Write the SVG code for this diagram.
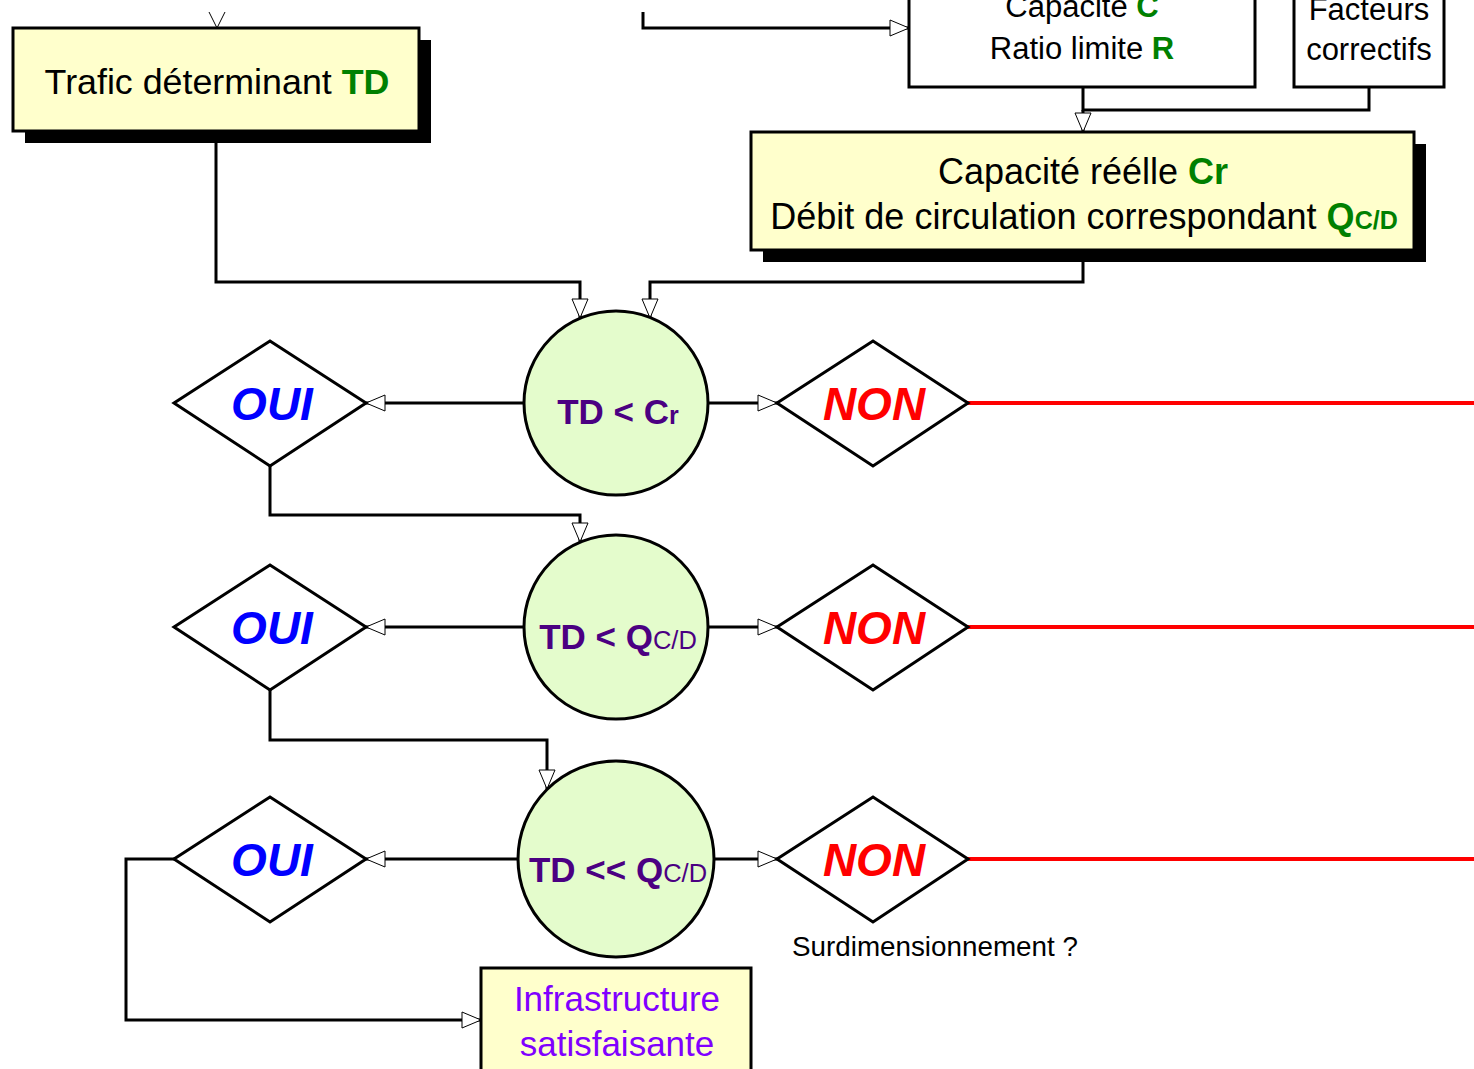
<svg xmlns="http://www.w3.org/2000/svg" width="1474" height="1069" viewBox="0 0 1474 1069">
<style>
text{font-family:"Liberation Sans",Arial,sans-serif;}
.box{fill:#ffffcc;stroke:#000;stroke-width:3;}
.wbox{fill:#fff;stroke:#000;stroke-width:3;}
.sh{fill:#000;}
.circ{fill:#e4fccc;stroke:#000;stroke-width:3;}
.dia{fill:#fff;stroke:#000;stroke-width:3;}
.ln{fill:none;stroke:#000;stroke-width:3;}
.lna{fill:none;stroke:#000;stroke-width:3;marker-end:url(#arr);}
.red{fill:none;stroke:#ff0000;stroke-width:4;}
.g{fill:#008000;font-weight:bold;}
.ct{fill:#4b0082;font-weight:bold;font-size:35px;}
.oui{fill:#0000ff;font-weight:bold;font-style:italic;font-size:46px;}
.non{fill:#ff0000;font-weight:bold;font-style:italic;font-size:46px;}
</style>
<defs>
<marker id="arr" markerUnits="userSpaceOnUse" markerWidth="20" markerHeight="18" refX="19" refY="8" orient="auto" overflow="visible">
<path d="M0,0 L19,8 L0,16 Z" fill="#fff" stroke="#000" stroke-width="1"/>
</marker>
</defs>
<rect width="1474" height="1069" fill="#fff"/>

<g id="connectors">
<path d="M209,12 L217,28 L225,12" fill="none" stroke="#000" stroke-width="1"/>
<path class="lna" d="M643,12 V28 H909"/>
<path class="ln" d="M1083,87 V110 H1369 V87"/>
<path class="lna" d="M1083,110 V132"/>
<path class="lna" d="M216,143 V282 H580 V318"/>
<path class="lna" d="M1083,262 V282 H650 V318"/>
<path class="lna" d="M524,403 H366"/>
<path class="lna" d="M708,403 H777"/>
<path class="red" d="M968,403 H1474"/>
<path class="lna" d="M270,466 V515 H580 V542"/>
<path class="lna" d="M524,627 H366"/>
<path class="lna" d="M708,627 H777"/>
<path class="red" d="M968,627 H1474"/>
<path class="lna" d="M270,690 V740 H547 V789"/>
<path class="lna" d="M518,859 H366"/>
<path class="lna" d="M714,859 H777"/>
<path class="red" d="M968,859 H1474"/>
<path class="lna" d="M174,859 H126 V1020 H481"/>
</g>

<g id="trafic">
<rect class="sh" x="25" y="40" width="406" height="103"/>
<rect class="box" x="13" y="28" width="406" height="103"/>
<text x="217" y="94" font-size="35.8" text-anchor="middle">Trafic déterminant <tspan class="g">TD</tspan></text>
</g>

<g id="capacite">
<rect class="wbox" x="909" y="-20" width="346" height="107"/>
<text x="1082" y="17" font-size="31" text-anchor="middle">Capacité <tspan class="g">C</tspan></text>
<text x="1082" y="59" font-size="31" text-anchor="middle">Ratio limite <tspan class="g">R</tspan></text>
</g>

<g id="facteurs">
<rect class="wbox" x="1294" y="-20" width="150" height="107"/>
<text x="1369" y="20" font-size="31" text-anchor="middle">Facteurs</text>
<text x="1369" y="60" font-size="31" text-anchor="middle">correctifs</text>
</g>

<g id="capreelle">
<rect class="sh" x="763" y="144" width="663" height="118"/>
<rect class="box" x="751" y="132" width="663" height="118"/>
<text x="1083" y="184" font-size="36" text-anchor="middle">Capacité réélle <tspan class="g">Cr</tspan></text>
<text x="1084" y="229" font-size="36" text-anchor="middle">Débit de circulation correspondant <tspan class="g">Q<tspan font-size="25">C/D</tspan></tspan></text>
</g>

<g id="c1">
<circle class="circ" cx="616" cy="403" r="92"/>
<text class="ct" x="618" y="424" text-anchor="middle">TD &lt; C<tspan font-size="25">r</tspan></text>
</g>
<g id="oui1">
<polygon class="dia" points="174,403 270,341 366,403 270,466"/>
<text class="oui" x="272" y="420" text-anchor="middle">OUI</text>
</g>
<g id="non1">
<polygon class="dia" points="777,403 873,341 968,403 873,466"/>
<text class="non" x="874" y="420" text-anchor="middle">NON</text>
</g>

<g id="c2">
<circle class="circ" cx="616" cy="627" r="92"/>
<text class="ct" x="618" y="649" text-anchor="middle">TD &lt; Q<tspan font-size="25.5" font-weight="normal">C/D</tspan></text>
</g>
<g id="oui2">
<polygon class="dia" points="174,627 270,565 366,627 270,690"/>
<text class="oui" x="272" y="644" text-anchor="middle">OUI</text>
</g>
<g id="non2">
<polygon class="dia" points="777,627 873,565 968,627 873,690"/>
<text class="non" x="874" y="644" text-anchor="middle">NON</text>
</g>

<g id="c3">
<circle class="circ" cx="616" cy="859" r="98"/>
<text class="ct" x="618" y="882" text-anchor="middle">TD &lt;&lt; Q<tspan font-size="25.5" font-weight="normal">C/D</tspan></text>
</g>
<g id="oui3">
<polygon class="dia" points="174,859 270,797 366,859 270,922"/>
<text class="oui" x="272" y="876" text-anchor="middle">OUI</text>
</g>
<g id="non3">
<polygon class="dia" points="777,859 873,797 968,859 873,922"/>
<text class="non" x="874" y="876" text-anchor="middle">NON</text>
</g>
<text x="792" y="956" font-size="27.8">Surdimensionnement ?</text>

<g id="infra">
<rect class="box" x="481" y="968" width="270" height="120"/>
<text x="617" y="1011" font-size="35" fill="#8000ff" text-anchor="middle">Infrastructure</text>
<text x="617" y="1056" font-size="35" fill="#8000ff" text-anchor="middle">satisfaisante</text>
</g>
</svg>
